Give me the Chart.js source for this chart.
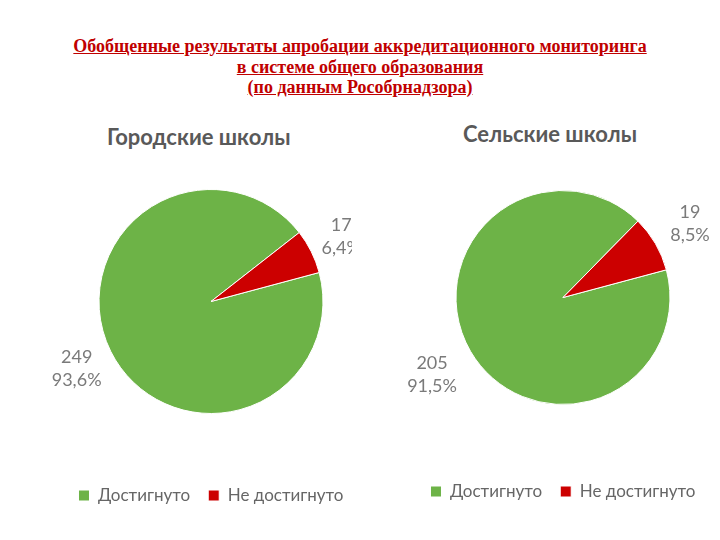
<!DOCTYPE html>
<html>
<head>
<meta charset="utf-8">
<script src="https://cdn.jsdelivr.net/npm/chart.js@4/dist/chart.umd.min.js"></script>
<style>
    body { margin: 0; background: #ffffff; }
    #page { position: relative; width: 720px; height: 540px; overflow: hidden; }
    .main-title {
        position: absolute; left: 0; top: 36px; width: 720px;
        text-align: center; color: #c00000;
        font: bold 18px "Liberation Serif", "Times New Roman", serif;
        line-height: 20.5px; text-decoration: underline;
    }
    .sub-title {
        position: absolute; color: #595959;
        font: bold 22px Lato, "Open Sans", sans-serif;
        white-space: nowrap;
    }
    .clip-box { position: absolute; overflow: hidden; }
    .chart-box { position: absolute; top: 0; }
</style>
</head>
<body>
<div id="page">
    <div class="main-title">
        Обобщенные результаты апробации аккредитационного мониторинга<br>
        в системе общего образования<br>
        (по данным Рособрнадзора)
    </div>
    <div class="sub-title" style="left:107px; top:123px;">Городские школы</div>
    <div class="sub-title" style="left:463px; top:120px;">Сельские школы</div>
    <!-- left picture is cut on its right edge, like in the source slide -->
    <div class="clip-box" style="left:40px; top:110px; width:312px; height:420px;">
        <div class="chart-box" style="left:-20px; width:382px; height:420px;">
            <canvas id="cityChart"></canvas>
        </div>
    </div>
    <div class="clip-box" style="left:390px; top:106px; width:346px; height:420px;">
        <div class="chart-box" style="left:0; width:346px; height:420px;">
            <canvas id="villageChart"></canvas>
        </div>
    </div>
</div>

<script>
// Data
const categories = ['Достигнуто', 'Не достигнуто'];
const cityValues = [249, 17];
const cityPercents = ['93,6%', '6,4%'];
const villageValues = [205, 19];
const villagePercents = ['91,5%', '8,5%'];

const sliceColors = ['#6db347', '#cc0000'];

// Labels outside the pie: value + percent
const outsideLabels = {
    id: 'outsideLabels',
    afterDatasetsDraw(chart, args, opts) {
        const ctx = chart.ctx;
        const meta = chart.getDatasetMeta(0);
        const values = chart.data.datasets[0].data;
        ctx.save();
        ctx.font = '18px Lato, "Open Sans", sans-serif';
        ctx.fillStyle = '#7a7a7a';
        ctx.textAlign = 'center';
        ctx.textBaseline = 'middle';
        meta.data.forEach((arc, i) => {
            const mid = (arc.startAngle + arc.endAngle) / 2;
            const lines = [String(values[i]), opts.percents[i]];
            const w = Math.max(...lines.map(t => ctx.measureText(t).width));
            const h = 44;
            const proj = Math.abs(Math.cos(mid)) * w / 2 + Math.abs(Math.sin(mid)) * h / 2;
            const dist = arc.outerRadius + opts.gap + proj;
            const x = arc.x + Math.cos(mid) * dist;
            const y = arc.y + Math.sin(mid) * dist;
            ctx.fillText(lines[0], x, y - 11);
            ctx.fillText(lines[1], x, y + 12);
        });
        ctx.restore();
    }
};

function makePie(canvasId, values, percents, radius, padding, gap) {
    const ctx = document.getElementById(canvasId).getContext('2d');
    return new Chart(ctx, {
        type: 'pie',
        data: {
            labels: categories,
            datasets: [{
                data: values,
                backgroundColor: sliceColors,
                borderColor: '#ffffff',
                borderWidth: 1,
                radius: radius
            }]
        },
        options: {
            responsive: true,
            maintainAspectRatio: false,
            animation: false,
            rotation: 75,
            layout: { padding: padding },
            plugins: {
                legend: {
                    position: 'bottom',
                    labels: {
                        boxWidth: 11,
                        boxHeight: 11,
                        padding: 18,
                        color: '#666666',
                        font: { family: 'Lato, "Open Sans", sans-serif', size: 17 }
                    }
                },
                tooltip: { enabled: false },
                outsideLabels: { percents: percents, gap: gap }
            }
        },
        plugins: [outsideLabels]
    });
}

makePie('cityChart', cityValues, cityPercents, 112, { left: 0, right: 0, top: 24, bottom: 16 }, 6);
makePie('villageChart', villageValues, villagePercents, 107, { left: 0, right: 0, top: 24, bottom: 16 }, 12);
</script>
</body>
</html>
